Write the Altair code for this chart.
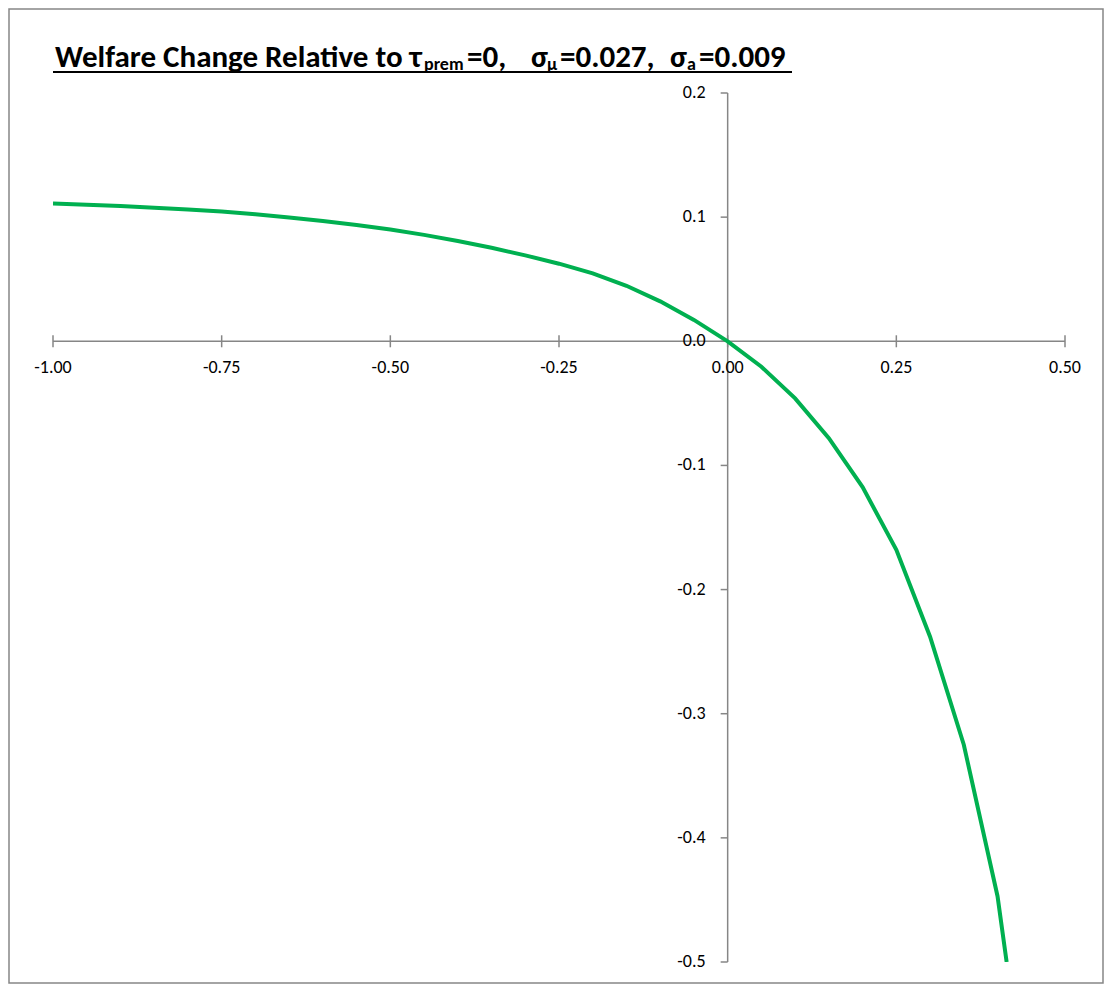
import altair as alt
import pandas as pd

# ---- data ----
x_vals = [-1.00, -0.95, -0.90, -0.85, -0.80, -0.75, -0.70, -0.65, -0.60, -0.55,
          -0.50, -0.45, -0.40, -0.35, -0.30, -0.25, -0.20, -0.15, -0.10, -0.05,
          0.00, 0.05, 0.10, 0.15, 0.20, 0.25, 0.30, 0.35, 0.40, 0.4135]
y_vals = [0.1110, 0.1100, 0.1089, 0.1076, 0.1062, 0.1046, 0.1024, 0.0998, 0.0969, 0.0936,
          0.0900, 0.0857, 0.0808, 0.0753, 0.0692, 0.0625, 0.0547, 0.0447, 0.0322, 0.0172,
          0.000, -0.0205, -0.046, -0.078, -0.1175, -0.168, -0.238, -0.325, -0.447, -0.500]

x_ticks = [-1.00, -0.75, -0.50, -0.25, 0.00, 0.25, 0.50]
x_tick_labels = ["-1.00", "-0.75", "-0.50", "-0.25", "0.00", "0.25", "0.50"]
y_ticks = [0.2, 0.1, 0.0, -0.1, -0.2, -0.3, -0.4, -0.5]
y_tick_labels = ["0.2", "0.1", "0.0", "-0.1", "-0.2", "-0.3", "-0.4", "-0.5"]

line_df = pd.DataFrame({"x": x_vals, "y": y_vals})
xt_df = pd.DataFrame({"v": x_ticks, "label": x_tick_labels})
yt_df = pd.DataFrame({"v": y_ticks, "label": y_tick_labels})
dummy = pd.DataFrame({"d": [0]})

W, H = 1012, 869
PL, PT, PR, PB = 45, 85, 39, 22
AXIS_COLOR = "#868686"
GREEN = "#00B050"
FONT = "Carlito, Lato, sans-serif"

xs = alt.Scale(domain=[-1, 0.5], nice=False, zero=False)
ys = alt.Scale(domain=[-0.5, 0.2], nice=False, zero=False)

# axis lines
x_axis_line = alt.Chart(dummy).mark_rule(color=AXIS_COLOR, strokeWidth=1.5).encode(
    x=alt.XDatum(-1, type="quantitative", scale=xs, axis=None),
    x2=alt.X2Datum(0.5),
    y=alt.YDatum(0, type="quantitative", scale=ys, axis=None),
)
y_axis_line = alt.Chart(dummy).mark_rule(color=AXIS_COLOR, strokeWidth=1.5).encode(
    x=alt.XDatum(0, type="quantitative", scale=xs, axis=None),
    y=alt.YDatum(-0.5, type="quantitative", scale=ys, axis=None),
    y2=alt.Y2Datum(0.2),
)
x_tick_marks = alt.Chart(xt_df).mark_rule(color=AXIS_COLOR, strokeWidth=1.5, yOffset=-6, y2Offset=6).encode(
    x=alt.X("v:Q", scale=xs, axis=None),
    y=alt.YDatum(0, type="quantitative", scale=ys, axis=None),
    y2=alt.Y2Datum(0),
)
y_tick_marks = alt.Chart(yt_df).mark_rule(color=AXIS_COLOR, strokeWidth=1.5, xOffset=-7, x2Offset=0).encode(
    y=alt.Y("v:Q", scale=ys, axis=None),
    x=alt.XDatum(0, type="quantitative", scale=xs, axis=None),
    x2=alt.X2Datum(0),
)
x_labels = alt.Chart(xt_df).mark_text(font=FONT, fontSize=18, color="#000000", dy=27,
                                      baseline="middle", align="center").encode(
    x=alt.X("v:Q", scale=xs, axis=None),
    y=alt.YDatum(0, type="quantitative", scale=ys, axis=None),
    text="label:N",
)
y_labels = alt.Chart(yt_df).mark_text(font=FONT, fontSize=18, color="#000000", dx=-22,
                                      baseline="middle", align="right").encode(
    y=alt.Y("v:Q", scale=ys, axis=None),
    x=alt.XDatum(0, type="quantitative", scale=xs, axis=None),
    text="label:N",
)

curve = alt.Chart(line_df).mark_line(color=GREEN, strokeWidth=4, clip=True).encode(
    x=alt.X("x:Q", scale=xs, axis=None),
    y=alt.Y("y:Q", scale=ys, axis=None),
    order="x:Q",
)

# title pieces (with subscripts) and underline
def seg(text, x, size, base_y):
    return alt.Chart(dummy).mark_text(text=text, font=FONT, fontWeight="bold", fontSize=size,
                                      color="#000000", align="left", baseline="alphabetic").encode(
        x=alt.value(x), y=alt.value(base_y))

BIG, SMALL = 31, 18
BY, SY = -26, -23
title_parts = [
    seg("Welfare Change Relative to τ", 2, BIG, BY),
    seg("prem", 371, SMALL, SY),
    seg("=0,", 414, BIG, BY),
    seg("σ", 478, BIG, BY),
    seg("μ", 494, SMALL, SY),
    seg("=0.027,", 507, BIG, BY),
    seg("σ", 617, BIG, BY),
    seg("a", 634, SMALL, SY),
    seg("=0.009", 646, BIG, BY),
]
underline = alt.Chart(dummy).mark_rule(color="#000000", strokeWidth=2).encode(
    x=alt.value(0), x2=alt.value(739), y=alt.value(-21))

border = alt.Chart(dummy).mark_rect(fill="transparent", stroke=AXIS_COLOR, strokeWidth=1.5).encode(
    x=alt.value(-PL + 1), x2=alt.value(W + PR - 1), y=alt.value(-PT + 1), y2=alt.value(H + PB - 1))

chart = alt.layer(
    border, x_axis_line, y_axis_line, x_tick_marks, y_tick_marks, x_labels, y_labels,
    curve, underline, *title_parts
).properties(
    width=W, height=H,
    padding={"left": PL, "top": PT, "right": PR, "bottom": PB},
    autosize=alt.AutoSizeParams(type="none"),
    background="white",
).configure_view(strokeWidth=0)

chart.save("out.html", embed_options={"renderer": "svg", "actions": False})
